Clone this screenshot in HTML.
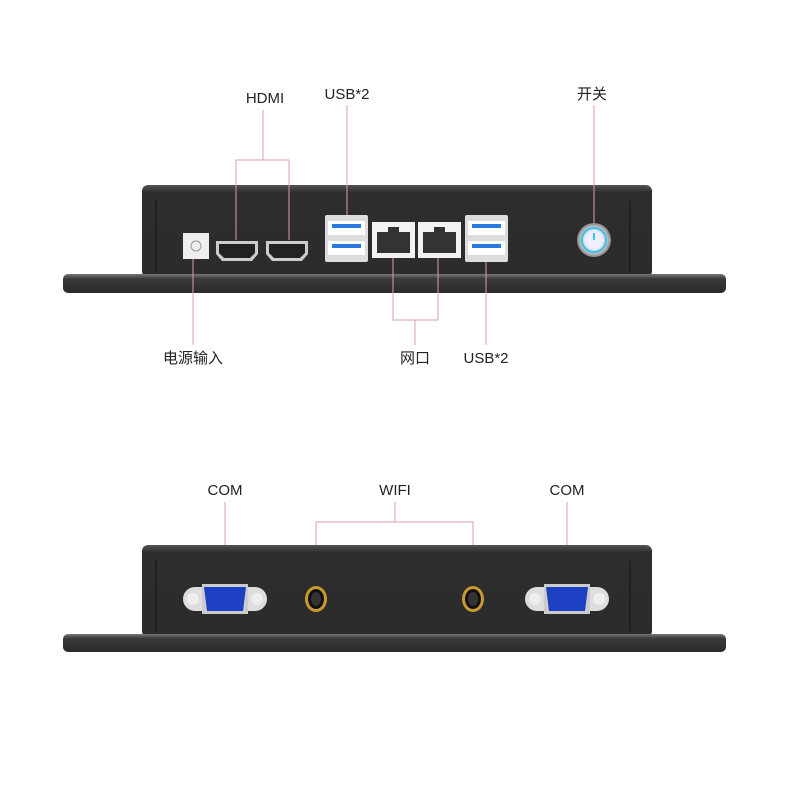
<!DOCTYPE html>
<html><head><meta charset="utf-8"><style>
body{margin:0;background:#fff}
svg{display:block}
text{font-family:"Liberation Sans","Noto Sans CJK SC",sans-serif;font-size:15px;fill:#222}
</style></head><body>
<svg width="800" height="800" viewBox="0 0 800 800">
<defs>
<linearGradient id="fl" x1="0" y1="0" x2="0" y2="1"><stop offset="0" stop-color="#777"/><stop offset=".25" stop-color="#3a3a3a"/><stop offset="1" stop-color="#2a2a2a"/></linearGradient>
<linearGradient id="bd" x1="0" y1="0" x2="0" y2="1"><stop offset="0" stop-color="#555"/><stop offset=".08" stop-color="#2e2e2e"/><stop offset="1" stop-color="#2b2b2b"/></linearGradient>
<radialGradient id="pb"><stop offset=".5" stop-color="#eef"/><stop offset=".8" stop-color="#bbb"/><stop offset="1" stop-color="#888"/></radialGradient>
<g id="usb"><rect x="0" y="0" width="43" height="47" fill="#ddd" rx="2"/><rect x="3" y="6" width="37" height="14" fill="#fff"/><rect x="7" y="9" width="29" height="4" fill="#2a7be0"/><rect x="3" y="26" width="37" height="14" fill="#fff"/><rect x="7" y="29" width="29" height="4" fill="#2a7be0"/></g>
<g id="rj"><rect width="43" height="36" fill="#f2f2f2"/><path d="M5 10h11v-5h11v5h11v21h-33z" fill="#333"/></g>
<g id="hd"><path d="M0 0h42v13l-6 7h-30l-6-7z" fill="#ccc"/><path d="M3 3h36v9l-5 5h-26l-5-5z" fill="#222"/></g>
<g id="vga"><rect x="0" y="-12" width="84" height="24" rx="12" fill="#ddd"/><circle cx="10" cy="0" r="6" fill="#eee"/><circle cx="74" cy="0" r="6" fill="#eee"/><rect x="19" y="-15" width="46" height="30" fill="#ccc"/><path d="M21 -12h42l-3 24h-36z" fill="#1d3fc2"/></g>
<g id="ant"><ellipse rx="11" ry="13" fill="#c99a2e"/><ellipse rx="8" ry="10" fill="#111"/><ellipse rx="5" ry="7" fill="#333"/></g>
</defs>

<!-- top device -->
<rect x="142" y="185" width="510" height="92" rx="6" fill="url(#bd)"/>
<line x1="156" y1="200" x2="156" y2="272" stroke="#111"/><line x1="630" y1="200" x2="630" y2="272" stroke="#111"/>
<rect x="63" y="274" width="663" height="19" rx="5" fill="url(#fl)"/>
<rect x="183" y="233" width="26" height="26" fill="#eee"/><circle cx="196" cy="246" r="5" fill="none" stroke="#999"/>
<use href="#hd" x="216" y="241"/><use href="#hd" x="266" y="241"/>
<use href="#usb" x="325" y="215"/><use href="#rj" x="372" y="222"/><use href="#rj" x="418" y="222"/><use href="#usb" x="465" y="215"/>
<circle cx="594" cy="240" r="17" fill="url(#pb)"/><circle cx="594" cy="240" r="12" fill="none" stroke="#3ac4f0" stroke-width="2"/><path d="M594 233v7" stroke="#3ac4f0" stroke-width="2"/>

<g stroke="#d9a0a8" fill="none" stroke-width="1">
<path d="M263 110v50M236 240v-80h53v80"/>
<path d="M347 105v110"/><path d="M594 105v118"/>
<path d="M193 259v86"/><path d="M393 258v62h45v-62M415 320v25"/><path d="M486 262v83"/>
<path d="M225 502v83"/><path d="M567 502v83"/><path d="M395 502v20M316 588v-66h157v66"/>
</g>
<text x="265" y="103" text-anchor="middle">HDMI</text>
<text x="347" y="99" text-anchor="middle">USB*2</text>
<text x="592" y="99" text-anchor="middle">开关</text>
<text x="193" y="363" text-anchor="middle">电源输入</text>
<text x="415" y="363" text-anchor="middle">网口</text>
<text x="486" y="363" text-anchor="middle">USB*2</text>

<!-- bottom device -->
<rect x="142" y="545" width="510" height="92" rx="6" fill="url(#bd)"/>
<line x1="156" y1="560" x2="156" y2="632" stroke="#111"/><line x1="630" y1="560" x2="630" y2="632" stroke="#111"/>
<rect x="63" y="634" width="663" height="18" rx="5" fill="url(#fl)"/>
<use href="#vga" x="183" y="599"/><use href="#vga" x="525" y="599"/>
<use href="#ant" x="316" y="599"/><use href="#ant" x="473" y="599"/>
<text x="225" y="495" text-anchor="middle">COM</text>
<text x="395" y="495" text-anchor="middle">WIFI</text>
<text x="567" y="495" text-anchor="middle">COM</text>
</svg>
</body></html>
